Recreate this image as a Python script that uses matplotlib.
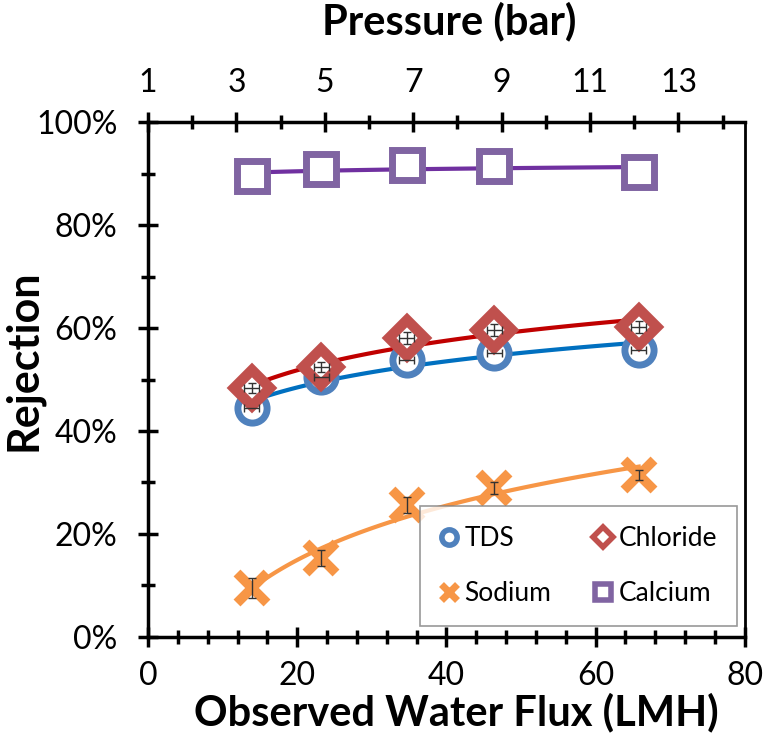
import numpy as np
import matplotlib
matplotlib.use("Agg")
import matplotlib.pyplot as plt
from matplotlib.ticker import MultipleLocator, FuncFormatter

plt.rcParams['font.family'] = ['Lato', 'DejaVu Sans']

# observed water flux (LMH)
flux = [13.9, 23.2, 34.7, 46.4, 65.8]
# rejection (%)
tds = [44.5, 50.5, 53.8, 55.1, 55.7]
chloride = [48.3, 52.4, 58.1, 59.6, 60.2]
sodium = [9.5, 15.3, 25.6, 28.9, 31.5]
calcium = [89.5, 90.9, 91.6, 91.5, 90.3]
# error bars
tds_xerr = [1.0, 1.0, 1.0, 1.0, 1.0]
cl_xerr = [1.0, 1.0, 1.0, 1.0, 1.0]
cl_yerr = [1.0, 1.0, 1.2, 1.2, 1.2]
na_yerr = [2.0, 1.5, 1.6, 1.2, 1.0]

fig = plt.figure(figsize=(7.63, 7.5), dpi=100)
ax = fig.add_axes([0.194, 0.1507, 0.782, 0.6866])


def log_trend(x, y):
    a, b = np.polyfit(np.log(x), y, 1)
    xs = np.linspace(min(x), max(x), 100)
    return xs, a * np.log(xs) + b


series = [
    (tds, 'o', '#4F81BD', '#0070C0', 'TDS', 21, 5),
    (chloride, 'D', '#C0504D', '#C00000', 'Chloride', 18, 7.5),
    (sodium, 'x', '#F79646', '#F79646', 'Sodium', 22, 7),
    (calcium, 's', '#8064A2', '#7030A0', 'Calcium', 22, 5),
]
handles = {}
for vals, mk, mc, lc, name, ms, mew in series:
    xs, ys = log_trend(flux, vals)
    ax.plot(xs, ys, color=lc, lw=3, zorder=2)
    ax.plot(flux, vals, ls='none', marker=mk, ms=ms, mew=mew,
            mec=mc, mfc='white' if mk != 'x' else mc, zorder=3)
    handles[name] = ax.plot([], [], ls='none', marker=mk, ms=11 if mk != 'D' else 10,
                            mew=4 if mk != 'x' else 5,
                            mec=mc, mfc='white' if mk != 'x' else mc)[0]

ax.errorbar(flux, tds, xerr=tds_xerr, fmt='none', ecolor='#333333', elinewidth=1, capsize=3, zorder=4)
ax.errorbar(flux, chloride, xerr=cl_xerr, yerr=cl_yerr, fmt='none', ecolor='#333333', elinewidth=1, capsize=3, zorder=4)
ax.errorbar(flux, sodium, yerr=na_yerr, fmt='none', ecolor='#333333', elinewidth=1, capsize=3, zorder=4)

ax.set_xlim(0, 80)
ax.set_ylim(0, 100)
ax.xaxis.set_major_locator(MultipleLocator(20))
ax.xaxis.set_minor_locator(MultipleLocator(4))
ax.yaxis.set_major_locator(MultipleLocator(20))
ax.yaxis.set_minor_locator(MultipleLocator(10))
ax.yaxis.set_major_formatter(FuncFormatter(lambda v, p: '%d%%' % v))
ax.tick_params(which='major', direction='inout', length=14, width=2.5, labelsize=23, pad=15)
ax.tick_params(which='minor', direction='inout', length=10, width=2.5)
ax.tick_params(axis='x', which='major', pad=10)
for s in ax.spines.values():
    s.set_linewidth(2.5)
ax.spines['right'].set_linewidth(2)

ax.set_xlabel('Observed Water Flux (LMH)', fontsize=30, fontweight='bold')
ax.xaxis.set_label_coords(0.516, -0.108)
ax.set_ylabel('Rejection', fontsize=31, fontweight='bold')
ax.yaxis.set_label_coords(-0.176, 0.538)

ax2 = ax.twiny()
ax2.set_xlim(1, 14.5)
ax2.set_xticks([1, 3, 5, 7, 9, 11, 13])
ax2.set_xticks([2, 4, 6, 8, 10, 12, 14], minor=True)
ax2.tick_params(which='major', direction='inout', length=14, width=2.5, labelsize=23, pad=10)
ax2.tick_params(which='minor', direction='inout', length=10, width=2.5)
ax2.set_xlabel('Pressure (bar)', fontsize=30, fontweight='bold')
ax2.xaxis.set_label_coords(0.505, 1.17)

names = ['TDS', 'Sodium', 'Chloride', 'Calcium']
leg = ax.legend([handles[n] for n in names], names, ncol=2,
                loc='lower right', bbox_to_anchor=(0.987, 0.021), borderaxespad=0,
                fontsize=19, frameon=True, fancybox=False, edgecolor='#7F7F7F',
                handlelength=0.7, handletextpad=0.25, columnspacing=1.6,
                labelspacing=1.15, borderpad=0.75)
leg.get_frame().set_linewidth(1.2)

fig.savefig('out.png', dpi=100)
